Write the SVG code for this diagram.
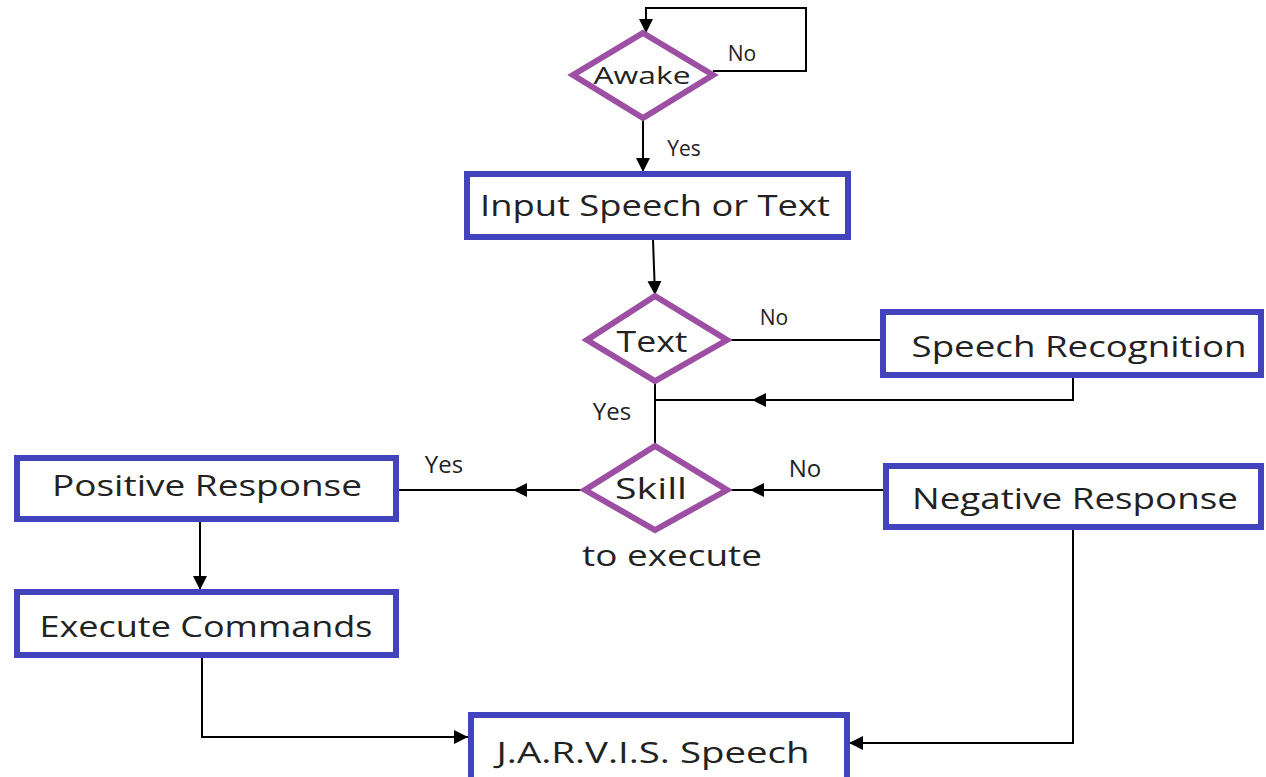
<svg xmlns="http://www.w3.org/2000/svg" width="1266" height="777" viewBox="0 0 1266 777">
<defs>
<style>
.box{fill:#fff;stroke:#4343bd;stroke-width:6}
.dia{fill:#fff;stroke:#9c4fa3;stroke-width:6}
.t{font-family:"Open Sans","Liberation Sans",sans-serif;fill:#222;text-anchor:middle}
.big{font-size:30px}
.sm{font-size:21px}
.c{fill:none;stroke:#000;stroke-width:2}
</style>
<marker id="ah" viewBox="0 0 10 10" refX="10" refY="5" markerWidth="14" markerHeight="14" markerUnits="userSpaceOnUse" orient="auto">
<path d="M0,0 L10,5 L0,10 z" fill="#000"/>
</marker>
</defs>
<rect width="1266" height="777" fill="#fff"/>
<g id="connectors">
<polyline class="c" points="713,71 806,71 806,8 646,8 646,33" marker-end="url(#ah)"/>
<line class="c" x1="643" y1="118" x2="643" y2="172" marker-end="url(#ah)"/>
<line class="c" x1="653" y1="240" x2="655" y2="295" marker-end="url(#ah)"/>
<line class="c" x1="727" y1="340" x2="882" y2="340"/>
<polyline class="c" points="1073,377 1073,400 655,400"/>
<line class="c" x1="1073" y1="400" x2="752" y2="400" marker-end="url(#ah)"/>
<line class="c" x1="655" y1="382" x2="655" y2="445"/>
<line class="c" x1="585" y1="490" x2="398" y2="490"/>
<line class="c" x1="585" y1="490" x2="513" y2="490" marker-end="url(#ah)"/>
<line class="c" x1="885" y1="490" x2="727" y2="490"/>
<line class="c" x1="885" y1="490" x2="750" y2="490" marker-end="url(#ah)"/>
<line class="c" x1="200" y1="520" x2="200" y2="590" marker-end="url(#ah)"/>
<polyline class="c" points="202,657 202,737 468,737" marker-end="url(#ah)"/>
<polyline class="c" points="1073,528 1073,743 849,743" marker-end="url(#ah)"/>
</g>
<g id="awake">
<polygon class="dia" points="643,33 713,75 643,118 573,75"/>
<text class="t" x="642" y="84" font-size="24" textLength="97" lengthAdjust="spacingAndGlyphs">Awake</text>
</g>
<text class="t sm" x="742" y="61">No</text>
<text class="t sm" x="684" y="156">Yes</text>
<g id="input">
<rect class="box" x="467" y="174" width="381" height="63"/>
<text class="t big" x="655" y="216" textLength="350" lengthAdjust="spacingAndGlyphs">Input Speech or Text</text>
</g>
<g id="text">
<polygon class="dia" points="655,296 727,340 655,381 587,340"/>
<text class="t big" x="652" y="352" textLength="71" lengthAdjust="spacingAndGlyphs">Text</text>
</g>
<text class="t sm" x="774" y="325">No</text>
<g id="speechrec">
<rect class="box" x="883" y="312" width="378" height="63"/>
<text class="t big" x="1079" y="357" textLength="335" lengthAdjust="spacingAndGlyphs">Speech Recognition</text>
</g>
<text class="t" x="612" y="420" font-size="24">Yes</text>
<g id="skill">
<polygon class="dia" points="655,446 727,490 655,530 585,490"/>
<text class="t big" x="651" y="499" textLength="72" lengthAdjust="spacingAndGlyphs">Skill</text>
<text class="t big" x="672" y="566" textLength="180" lengthAdjust="spacingAndGlyphs">to execute</text>
</g>
<text class="t" x="444" y="473" font-size="24">Yes</text>
<text class="t" x="805" y="477" font-size="24">No</text>
<g id="positive">
<rect class="box" x="17" y="458" width="379" height="61"/>
<text class="t big" x="207" y="496" textLength="310" lengthAdjust="spacingAndGlyphs">Positive Response</text>
</g>
<g id="execute">
<rect class="box" x="17" y="592" width="379" height="63"/>
<text class="t big" x="206" y="637" textLength="333" lengthAdjust="spacingAndGlyphs">Execute Commands</text>
</g>
<g id="negative">
<rect class="box" x="886" y="466" width="375" height="61"/>
<text class="t big" x="1075" y="509" textLength="326" lengthAdjust="spacingAndGlyphs">Negative Response</text>
</g>
<g id="jarvis">
<rect class="box" x="471" y="715" width="376" height="66"/>
<text class="t big" x="653" y="763" textLength="313" lengthAdjust="spacingAndGlyphs">J.A.R.V.I.S. Speech</text>
</g>
</svg>
